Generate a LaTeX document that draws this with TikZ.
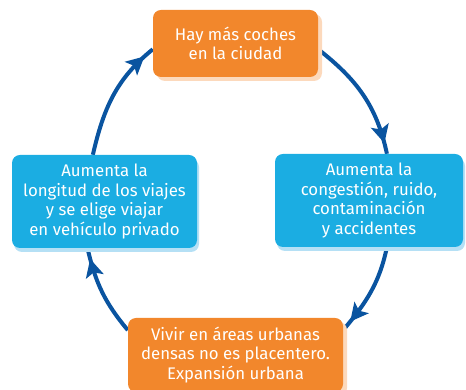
\documentclass[tikz,border=0pt]{standalone}
\usepackage{fontspec}
\setmainfont{Fira Sans}
\usetikzlibrary{arrows.meta,shadows,backgrounds,decorations.markings}
\definecolor{boxorange}{RGB}{242,135,44}
\definecolor{shadeorange}{RGB}{252,217,188}
\definecolor{boxblue}{RGB}{27,173,226}
\definecolor{shadeblue}{RGB}{181,224,245}
\definecolor{cyclearrow}{RGB}{10,84,160}
\begin{document}
\begin{tikzpicture}[x=1pt,y=1pt]
      \tikzstyle{stage}=[rounded corners=8pt,text=white,align=center,inner sep=0pt,
        font=\fontsize{16.8}{19.5}\selectfont]
      \tikzstyle{orange}=[stage,fill=boxorange,
        general shadow={fill=shadeorange,shadow xshift=4pt,shadow yshift=-4pt}]
      \tikzstyle{blue}=[stage,fill=boxblue,
        general shadow={fill=shadeblue,shadow xshift=2pt,shadow yshift=-4pt}]
      \tikzstyle{edge}=[draw,cyclearrow,line width=4pt,postaction={decorate},
        decoration={markings,mark=at position -11pt with
          {\arrow{Stealth[length=18pt,width=18pt,inset=4pt]}}}]
      \useasboundingbox (0,0) rectangle (466,390);
      \node[orange,minimum width=165pt,minimum height=67pt] (T) at (235.5,346.5)
        {Hay más coches\\en la ciudad};
      \node[blue,minimum width=188pt,minimum height=93pt] (R) at (369,189.5)
        {Aumenta la\\congestión, ruido,\\contaminación\\y accidentes};
      \node[orange,minimum width=215pt,minimum height=74pt] (B) at (235.5,35)
        {Vivir en áreas urbanas\\densas no es placentero.\\Expansión urbana};
      \node[blue,minimum width=185pt,minimum height=93pt] (L) at (104.5,188.5)
        {Aumenta la\\longitud de los viajes\\y se elige viajar\\en vehículo privado};
      \begin{scope}[on background layer]
      \path[edge] (L.104) to[out=77,in=219] (T.184);
      \path[edge] (T.356) to[out=-38,in=102] (R.69);
      \path[edge] (R.291) to[out=-102,in=50] (B.13);
      \path[edge] (B.167) to[out=130,in=-77] (L.250);
      \end{scope}
    \end{tikzpicture}
\end{document}
